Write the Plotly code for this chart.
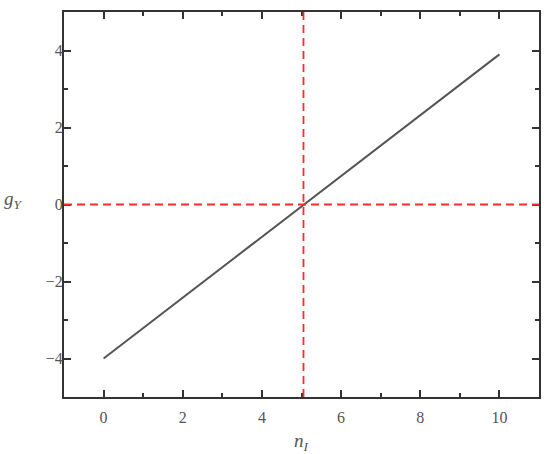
import plotly.graph_objects as go

# data
n_I = [0, 10]
g_Y = [-4.0, 3.9]
n_cross = 5.05   # vertical guide where g_Y changes sign
g_zero = 0       # horizontal guide

font_serif = "Liberation Serif, Times New Roman, serif"

fig = go.Figure()
fig.add_trace(go.Scatter(
    x=n_I, y=g_Y, mode="lines",
    line=dict(color="#555555", width=2),
    showlegend=False))

fig.add_hline(y=g_zero, line=dict(color="#ff2a2a", width=1.8, dash="8px,5px"))
fig.add_vline(x=n_cross, line=dict(color="#ff2a2a", width=1.8, dash="8px,5px"))

axis_common = dict(
    showgrid=False, zeroline=False,
    showline=True, linecolor="#333333", linewidth=2, mirror="ticks",
    ticks="inside", ticklen=7, tickwidth=2, tickcolor="#333333",
    tickfont=dict(family=font_serif, size=16, color="#555555"),
    minor=dict(ticks="inside", ticklen=4, tickwidth=1.5, tickcolor="#333333", dtick=1),
    dtick=2, tick0=0,
)

fig.update_xaxes(range=[-1, 11], ticklabelstandoff=5, **axis_common)
fig.update_yaxes(range=[-5, 5], ticklabelstandoff=-4, **axis_common)

fig.add_annotation(text="<i>g</i><sub><i>Y</i></sub>", xref="paper", yref="paper",
                   x=-0.082, y=0.512, showarrow=False, xanchor="right",
                   font=dict(family=font_serif, size=19, color="#555555"))
fig.add_annotation(text="<i>n</i><sub><i>I</i></sub>", xref="paper", yref="paper",
                   x=0.499, y=-0.117, showarrow=False, yanchor="middle",
                   font=dict(family=font_serif, size=19, color="#555555"))

fig.update_layout(
    width=550, height=454,
    margin=dict(l=64, r=9, t=12, b=57),
    plot_bgcolor="white", paper_bgcolor="white",
)

# drop the default body margin so the figure sits at the page corner
fig.write_html("out.html", config={"displayModeBar": False},
               post_script="document.body.style.margin='0';")
